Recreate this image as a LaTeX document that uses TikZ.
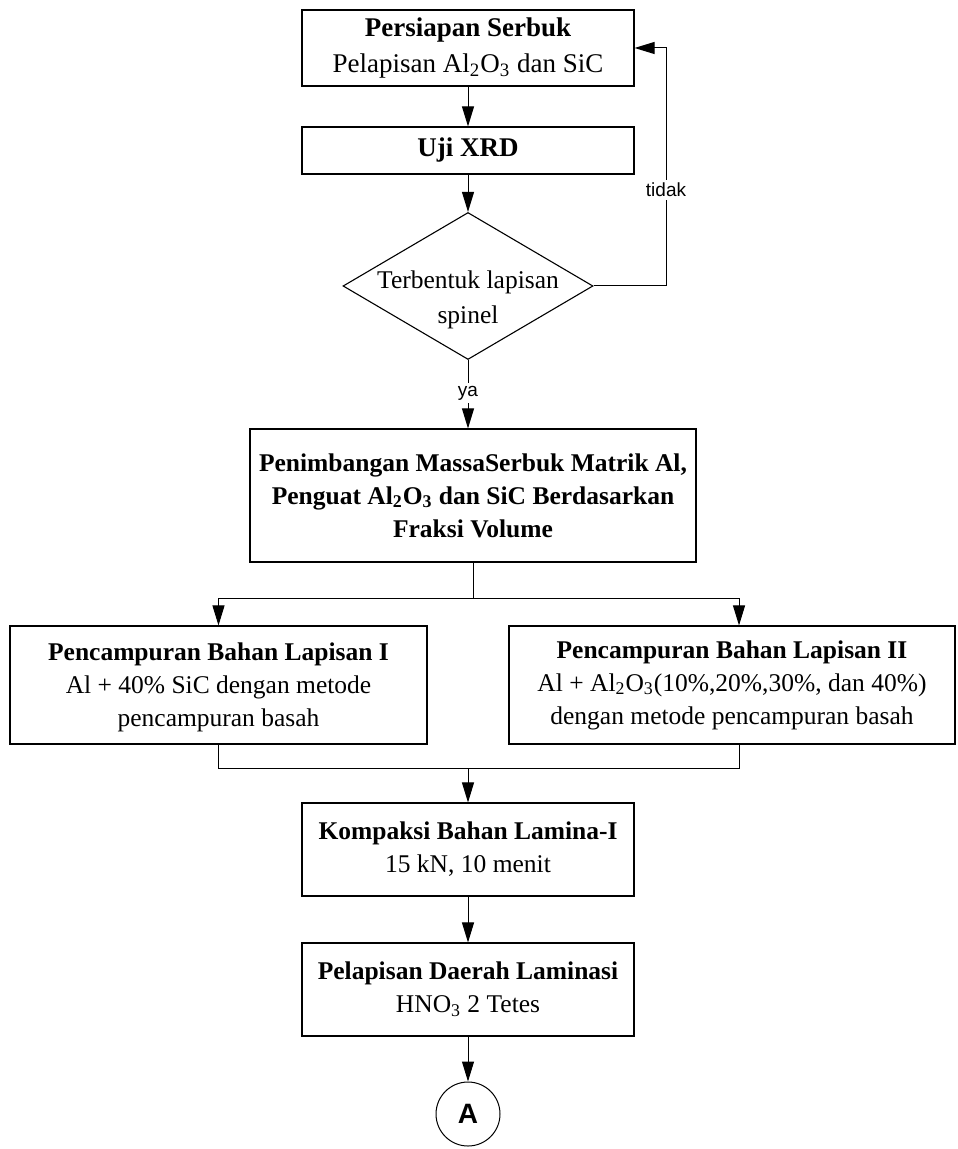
\documentclass[tikz,border=0pt]{standalone}
\usepackage{fontspec}
\setmainfont{Liberation Serif}
\newfontfamily\arialf{Liberation Sans}
\usetikzlibrary{arrows.meta,shapes.geometric,calc}
\begin{document}
\begin{tikzpicture}[x=0.5pt,y=-0.5pt,
  box/.style={draw=black, line width=0.55pt, rectangle, align=center, inner sep=0pt, fill=white,
              font=\fontsize{12.75}{16.5}\selectfont},
  topbox/.style={box, font=\fontsize{13.5}{18}\selectfont},
  conn/.style={line width=0.5pt, draw=black},
  arr/.style={conn, -{Triangle[length=10pt,width=6pt]}},
  lbl/.style={font=\arialf\fontsize{9.5}{11}\selectfont, fill=white, inner sep=1.5pt},
]
\useasboundingbox (0,0) rectangle (957,1149);

\node[topbox, minimum width=166pt, minimum height=38pt] (b1) at (468,48)
  {\textbf{Persiapan Serbuk}\\Pelapisan Al\textsubscript{2}O\textsubscript{3} dan SiC};
\node[topbox, minimum width=166pt, minimum height=23.5pt] (b2) at (468,150.5)
  {\textbf{Uji XRD}};
\node[diamond, draw=black, line width=0.55pt, fill=white, inner sep=0pt,
      minimum width=125pt, minimum height=73.5pt,
      label={[align=center, yshift=-7pt, font=\fontsize{12.75}{17.5}\selectfont]center:Terbentuk lapisan\\spinel}] (dia) at (468,286) {};
\node[lbl] (tidak) at (666,190) {tidak};
\node[lbl] (ya) at (468,393) {ya};

\node[box, minimum width=223pt, minimum height=66.5pt] (b3) at (473,495.5)
  {\textbf{Penimbangan MassaSerbuk Matrik Al,}\\
   \textbf{Penguat Al\textsubscript{2}O\textsubscript{3} dan SiC Berdasarkan}\\
   \textbf{Fraksi Volume}};

\node[box, minimum width=208.5pt, minimum height=59pt, text depth=0pt] (lb) at (218.5,685)
  {\textbf{Pencampuran Bahan Lapisan I}\\Al + 40\% SiC dengan metode\\pencampuran basah};
\node[box, minimum width=223pt, minimum height=59pt] (rb) at (732,685)
  {\textbf{Pencampuran Bahan Lapisan II}\\Al + Al\textsubscript{2}O\textsubscript{3}(10\%,20\%,30\%, dan 40\%)\\dengan metode pencampuran basah};

\node[box, minimum width=166pt, minimum height=46.5pt] (k) at (468,849.5)
  {\textbf{Kompaksi Bahan Lamina-I}\\15 kN, 10 menit};
\node[box, minimum width=166pt, minimum height=46.5pt] (p) at (468,989.5)
  {\textbf{Pelapisan Daerah Laminasi}\\HNO\textsubscript{3} 2 Tetes};
\node[circle, draw=black, line width=0.5pt, minimum size=32pt, inner sep=0pt,
      font=\arialf\bfseries\fontsize{14}{16}\selectfont] (A) at (468,1114) {A};

\coordinate (br) at (473,598);
\coordinate (mg) at (468,768);

\draw[arr] (b1.south) -- (b2.north);
\draw[arr] (b2.south) -- (dia.north);
\draw[conn] (dia.east) -| (tidak.south);
\draw[arr] (tidak.north) |- (b1.east);
\draw[conn] (dia.south) -- (ya.north);
\draw[arr] (ya.south) -- (ya.south |- b3.north);
\draw[conn] (b3.south) -- (br);
\draw[arr] (br) -| (lb.north);
\draw[arr] (br) -| ($(rb.north)+(7,0)$);
\draw[conn] (lb.south) |- (mg);
\draw[conn] ($(rb.south)+(7,0)$) |- (mg);
\draw[arr] (mg) -- (k.north);
\draw[arr] (k.south) -- (p.north);
\draw[arr] (p.south) -- (A.north);
\end{tikzpicture}
\end{document}
